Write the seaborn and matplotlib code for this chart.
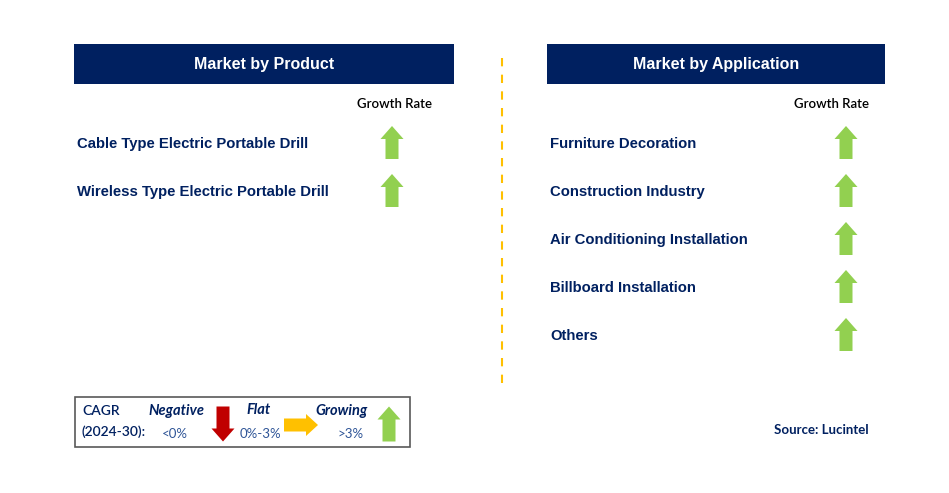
import matplotlib
matplotlib.use("Agg")
import matplotlib.pyplot as plt
from matplotlib.patches import Rectangle, Polygon
import seaborn as sns
import pandas as pd

# ---- data ----
panel_titles = ["Market by Product", "Market by Application"]
products = ["Cable Type Electric Portable Drill", "Wireless Type Electric Portable Drill"]
product_growth = ["up", "up"]
applications = ["Furniture Decoration", "Construction Industry", "Air Conditioning Installation",
                "Billboard Installation", "Others"]
application_growth = ["up", "up", "up", "up", "up"]
legend_labels = ["Negative", "Flat", "Growing"]
legend_ranges = ["<0%", "0%-3%", ">3%"]
legend_dirs = ["down", "right", "up"]
source_text = "Source: Lucintel"

NAVY = "#002060"
GREEN = "#92D050"
RED = "#C00000"
YELLOW = "#FFC000"
dir_colors = {"up": GREEN, "down": RED, "right": YELLOW}

sns.set_style("white")
plt.rcParams['font.family'] = ['Liberation Sans', 'DejaVu Sans']

fig = plt.figure(figsize=(9.49, 4.93), dpi=100)
ax = fig.add_axes([0, 0, 1, 1])
ax.set_xlim(0, 949)
ax.set_ylim(493, 0)
ax.axis("off")


def arrow(cx, cy, direction, length=33, head_w=23, shaft_w=13, head_h=13):
    L2 = length / 2
    hw, sw = head_w / 2, shaft_w / 2
    if direction == "up":
        pts = [(cx, cy - L2), (cx + hw, cy - L2 + head_h), (cx + sw, cy - L2 + head_h),
               (cx + sw, cy + L2), (cx - sw, cy + L2), (cx - sw, cy - L2 + head_h),
               (cx - hw, cy - L2 + head_h)]
    elif direction == "down":
        pts = [(cx, cy + L2), (cx + hw, cy + L2 - head_h), (cx + sw, cy + L2 - head_h),
               (cx + sw, cy - L2), (cx - sw, cy - L2), (cx - sw, cy + L2 - head_h),
               (cx - hw, cy + L2 - head_h)]
    else:
        pts = [(cx + L2, cy), (cx + L2 - head_h, cy - hw), (cx + L2 - head_h, cy - sw),
               (cx - L2, cy - sw), (cx - L2, cy + sw), (cx + L2 - head_h, cy + sw),
               (cx + L2 - head_h, cy + hw)]
    ax.add_patch(Polygon(pts, closed=True, facecolor=dir_colors[direction],
                         edgecolor="none", zorder=3))


def panel(x0, x1, title, items, growth, label_x, arrow_x, gr_x):
    ax.add_patch(Rectangle((x0, 44), x1 - x0, 40, facecolor=NAVY, edgecolor="none"))
    ax.text((x0 + x1) / 2, 64.5, title, color="white", fontsize=11.5, fontweight="bold",
            ha="center", va="center")
    ax.text(gr_x, 103.5, "Growth Rate", color="black", fontsize=9.5, ha="center", va="center",
            family=["Lato", "DejaVu Sans"], fontweight="semibold")
    df = pd.DataFrame({"item": items, "growth": growth})
    for i, row in df.iterrows():
        y = 142.5 + 48 * i
        ax.text(label_x, y + 1.5, row["item"], color=NAVY, fontsize=10.75, fontweight="bold",
                ha="left", va="center")
        arrow(arrow_x, y, row["growth"])


panel(74, 454, panel_titles[0], products, product_growth, 77, 392, 395)
panel(547, 885, panel_titles[1], applications, application_growth, 550, 846, 832)

# dashed divider
ax.plot([502, 502], [58, 385], color=YELLOW, linestyle=(0, (4, 4)), linewidth=1.5, zorder=2)

# legend box
ax.add_patch(Rectangle((75, 397), 335, 50, facecolor="white", edgecolor="#595959", linewidth=1.2))
lf = ["Lato", "DejaVu Sans"]
ax.text(82, 411, "CAGR", color=NAVY, fontsize=10, ha="left", va="center", family=lf,
        fontweight="semibold")
ax.text(82, 432, "(2024-30):", color=NAVY, fontsize=10, ha="left", va="center", family=lf,
        fontweight="semibold")
lab_x = [176, 259, 342]
rng_x = [175, 260, 351]
arr_x = [223, 301, 389]
for lx, rx, axx, lab, rg, d in zip(lab_x, rng_x, arr_x, legend_labels, legend_ranges, legend_dirs):
    ax.text(lx, 410.5, lab, color=NAVY, fontsize=10.5, fontstyle="italic", fontweight="bold",
            ha="center", va="center", family=lf)
    ax.text(rx, 434, rg, color="#2F5597", fontsize=9.5, ha="center", va="center", family=lf)
    if d == "right":
        arrow(axx, 425, d, length=34, head_w=22, shaft_w=13, head_h=12)
    else:
        arrow(axx, 424, d, length=35, head_w=23, shaft_w=13, head_h=13)

ax.text(821, 429.5, source_text, color=NAVY, fontsize=9.5, ha="center", va="center", family=lf,
        fontweight="bold")

fig.savefig("out.png", dpi=100, facecolor="white")
